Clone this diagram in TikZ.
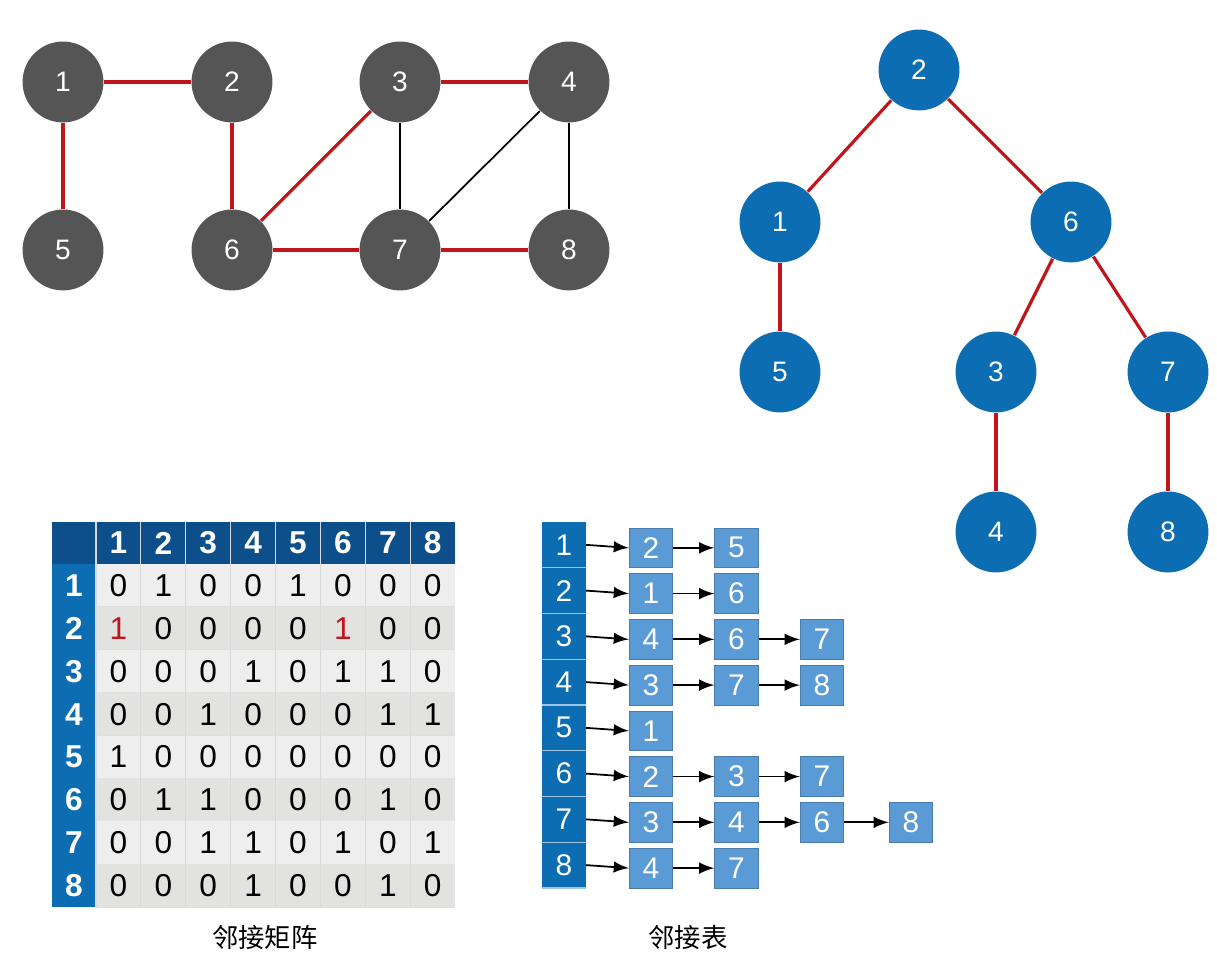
\documentclass[tikz,border=0pt]{standalone}
\usepackage{fontspec}
\setmainfont{Liberation Sans}
\newfontfamily\cjk{Noto Sans CJK SC}
\usetikzlibrary{calc}

\definecolor{vgray}{HTML}{555555}
\definecolor{vblue}{HTML}{0C6DB3}
\definecolor{hblue}{HTML}{0D4F8A}
\definecolor{lblue}{HTML}{5B9BD5}
\definecolor{redge}{HTML}{C0161B}
\definecolor{cellA}{HTML}{EEEEEE}
\definecolor{cellB}{HTML}{E2E2E0}

\tikzset{
    gvert/.style={circle, fill=vgray, minimum size=23pt, inner sep=0pt, text=white, font=\fontsize{8}{9}\selectfont},
    tvert/.style={circle, fill=vblue, minimum size=23pt, inner sep=0pt, text=white, font=\fontsize{8}{9}\selectfont},
    redg/.style={redge, line width=0.9pt},
    bedg/.style={black, line width=0.5pt},
    lbox/.style={fill=lblue, draw=lblue!80!black, line width=0.2pt, minimum width=12.4pt, minimum height=11.3pt, inner sep=0pt, text=white, font=\fontsize{8.5}{9}\selectfont},
}

\begin{document}
\begin{tikzpicture}[x=0.01cm, y=-0.01cm]
    \useasboundingbox (0,0) rectangle (1217,971);

    % undirected graph
    \foreach \n/\x/\y in {1/63/82, 2/232/82, 3/400/82, 4/569/82,
                          5/63/250, 6/232/250, 7/400/250, 8/569/250}
        \node[gvert] (g\n) at (\x,\y) {\n};
    \foreach \a/\b in {1/2, 1/5, 2/6, 3/4, 3/6, 6/7, 7/8}
        \draw[redg] (g\a) -- (g\b);
    \foreach \a/\b in {3/7, 4/7, 4/8}
        \draw[bedg] (g\a) -- (g\b);

    % spanning tree
    \foreach \n/\x/\y in {2/919/70, 1/780/222, 6/1071/222, 5/780/372,
                          3/996/372, 7/1168/372, 4/996/532, 8/1168/532}
        \node[tvert] (t\n) at (\x,\y) {\n};
    \foreach \a/\b in {2/1, 2/6, 1/5, 6/3, 6/7, 3/4, 7/8}
        \draw[redg] (t\a) -- (t\b);

    % adjacency matrix
    \fill[hblue] (52,522) rectangle (455,564);
    \fill[vblue] (52,564) rectangle (96,907);
    \foreach \r [count=\i] in {{0,1,0,0,1,0,0,0}, {1,0,0,0,0,1,0,0},
                               {0,0,0,1,0,1,1,0}, {0,0,1,0,0,0,1,1},
                               {1,0,0,0,0,0,0,0}, {0,1,1,0,0,0,1,0},
                               {0,0,1,1,0,1,0,1}, {0,0,0,1,0,0,1,0}} {
        \pgfmathsetmacro{\yt}{564+(\i-1)*42.9}
        \pgfmathsetmacro{\yb}{564+\i*42.9}
        \pgfmathsetmacro{\ym}{564+(\i-0.5)*42.9}
        \ifodd\i \def\cc{cellA}\else\def\cc{cellB}\fi
        \fill[\cc] (96,\yt) rectangle (455,\yb);
        \node[text=white, font=\bfseries\fontsize{9}{9}\selectfont] (rh\i) at (74,\ym) {\i};
        \foreach \v [count=\j] in \r {
            \pgfmathsetmacro{\xm}{96+(\j-0.5)*44.9}
            \node[font=\fontsize{9}{9}\selectfont] (m\i\j) at (\xm,\ym) {\v};
        }
        \draw[white!75!gray, line width=0.3pt] (96,\yb) -- (455,\yb);
    }
    \foreach \j in {1,...,8} {
        \pgfmathsetmacro{\xm}{96+(\j-0.5)*44.9}
        \node[text=white, font=\bfseries\fontsize{9}{9}\selectfont] (ch\j) at (\xm,543) {\j};
        \draw[white!70!gray, line width=0.3pt] ({96+(\j-1)*44.9},522) -- ({96+(\j-1)*44.9},907);
    }
    \node[text=redge, font=\fontsize{9}{9}\selectfont, fill=cellB, inner sep=1pt] at (m21) {1};
    \node[text=redge, font=\fontsize{9}{9}\selectfont, fill=cellB, inner sep=1pt] at (m26) {1};
    \node[font=\cjk\fontsize{7.5}{8}\selectfont] (mlab) at (265,938) {邻接矩阵};

    % adjacency list
    \fill[vblue] (542,522) rectangle (586,888);
    \foreach \i in {1,...,8} {
        \pgfmathsetmacro{\ym}{522+(\i-0.5)*45.75}
        \node[text=white, font=\fontsize{8.5}{9}\selectfont] (h\i) at (564,\ym) {\i};
        \coordinate (hr\i) at (586,\ym);
        \draw[white!60!vblue, line width=0.3pt] (542,{522+\i*45.75}) -- (586,{522+\i*45.75});
    }
    \foreach \i/\lst in {1/{2,5}, 2/{1,6}, 3/{4,6,7}, 4/{3,7,8},
                         5/{1}, 6/{2,3,7}, 7/{3,4,6,8}, 8/{4,7}} {
        \pgfmathsetmacro{\ym}{522+(\i-0.5)*45.75+3}
        \foreach \v [count=\k] in \lst {
            \ifnum\k=4 \def\xk{911}\else\pgfmathsetmacro{\xk}{651+(\k-1)*85.5}\fi
            \node[lbox] (l\i\k) at (\xk,\ym) {\v};
        }
    }
    \foreach \i/\n in {1/2, 2/2, 3/3, 4/3, 5/1, 6/3, 7/4, 8/2} {
        \draw[-latex, line width=0.5pt] (hr\i) -- (l\i1.west);
        \foreach \k in {1,2,3} {
            \pgfmathtruncatemacro{\kp}{\k+1}
            \ifnum\k<\n \draw[-latex, line width=0.5pt] (l\i\k) -- (l\i\kp);\fi
        }
    }
    \node[font=\cjk\fontsize{7.5}{8}\selectfont] (llab) at (688,938) {邻接表};
\end{tikzpicture}
\end{document}
